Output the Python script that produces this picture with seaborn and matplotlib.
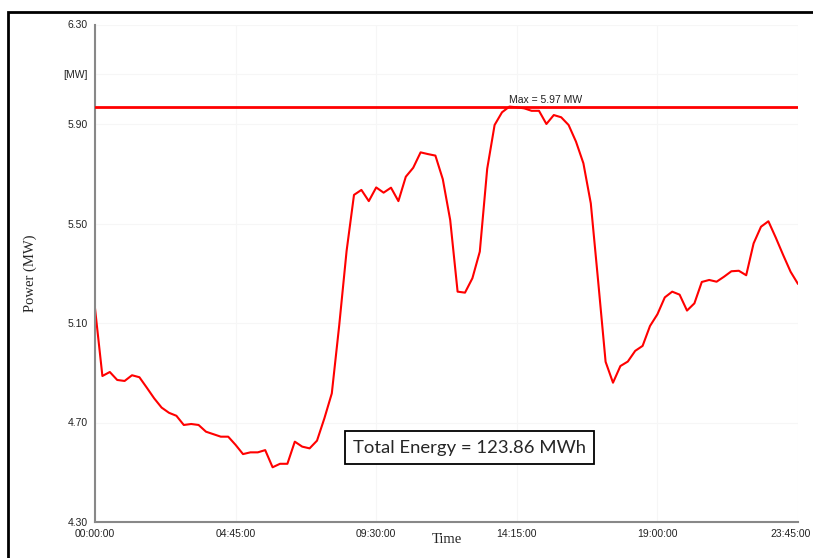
import matplotlib
matplotlib.use("Agg")
import matplotlib.pyplot as plt
import matplotlib.transforms as mtransforms
import seaborn as sns
import numpy as np
import pandas as pd
from matplotlib.patches import Rectangle

# ---- data ----
time_tick_labels = ["00:00:00", "04:45:00", "09:30:00", "14:15:00", "19:00:00", "23:45:00"]
time_tick_index = [0, 19, 38, 57, 76, 95]
power = [
    5.159, 4.887, 4.903, 4.871, 4.867, 4.890, 4.882, 4.840, 4.797, 4.760,
    4.739, 4.727, 4.690, 4.694, 4.690, 4.663, 4.653, 4.643, 4.643, 4.610,
    4.573, 4.580, 4.580, 4.589, 4.520, 4.534, 4.534, 4.623, 4.603, 4.596,
    4.627, 4.717, 4.817, 5.090, 5.390, 5.615, 5.635, 5.590, 5.645, 5.624,
    5.644, 5.590, 5.688, 5.724, 5.786, 5.779, 5.773, 5.678, 5.514, 5.226,
    5.222, 5.280, 5.387, 5.720, 5.896, 5.947, 5.970, 5.967, 5.963, 5.953,
    5.953, 5.900, 5.936, 5.927, 5.896, 5.829, 5.742, 5.581, 5.266, 4.944,
    4.860, 4.927, 4.945, 4.988, 5.008, 5.088, 5.135, 5.203, 5.226, 5.214,
    5.150, 5.179, 5.265, 5.273, 5.266, 5.286, 5.308, 5.310, 5.292, 5.420,
    5.487, 5.509, 5.443, 5.373, 5.306, 5.257,
]
y_ticks = [6.30, 6.10, 5.90, 5.50, 5.10, 4.70, 4.30]
y_tick_labels = ["6.30", "[MW]", "5.90", "5.50", "5.10", "4.70", "4.30"]
max_value = 5.97
max_label = "Max = 5.97 MW"
energy_label = "Total Energy = 123.86 MWh"

df = pd.DataFrame({"idx": np.arange(len(power)), "power": power})

sns.set_style("white")
plt.rcParams["font.family"] = ["Liberation Sans", "DejaVu Sans"]

fig = plt.figure(figsize=(8.13, 5.58), dpi=100)
ax = fig.add_axes([95 / 813, 1 - 522 / 558, (798 - 95) / 813, (522 - 24.5) / 558])

sns.lineplot(data=df, x="idx", y="power", ax=ax, color="#ff0000", linewidth=1.5)
ax.axhline(max_value, color="#ff0000", linewidth=2.0, zorder=3)
imax = int(np.argmax(power))
ax.text(imax, max_value + 0.005, max_label, ha="left", va="bottom",
        fontsize=7.5, color="#222222")

ax.set_xlim(0, 95)
ax.set_ylim(4.30, 6.30)
ax.set_xticks(time_tick_index)
ax.set_xticklabels(time_tick_labels)
ax.set_yticks(y_ticks)
ax.set_yticklabels(y_tick_labels)
ax.tick_params(axis="both", labelsize=7.5, labelcolor="#222222", length=2,
               color="#bbbbbb", pad=3)
ax.grid(True, color="#f6f6f6", linewidth=0.8)
ax.set_axisbelow(True)

# keep the last x tick label inside the figure
last = ax.get_xticklabels()[-1]
last.set_transform(last.get_transform() +
                   mtransforms.ScaledTranslation(-7 / 100, 0, fig.dpi_scale_trans))

for s in ["top", "right"]:
    ax.spines[s].set_visible(False)
for s in ["left", "bottom"]:
    ax.spines[s].set_color("#888888")
    ax.spines[s].set_linewidth(1.5)

ax.set_xlabel("Time", family=["Liberation Serif"], fontsize=10.5, labelpad=-4)
ax.set_ylabel("Power (MW)", family=["Liberation Serif"], fontsize=10.5, labelpad=19)

fig.text(469.5 / 813, 1 - 447.5 / 558, energy_label, ha="center", va="center",
         fontsize=13.3, family=["Lato", "DejaVu Sans"],
         bbox=dict(boxstyle="square,pad=0.45", facecolor="white",
                   edgecolor="black", linewidth=1.3))

# figure frame
fig.patches.append(Rectangle((8 / 813, -0.1), 1.2, 1 - 12 / 558 + 0.1,
                             transform=fig.transFigure, fill=False,
                             edgecolor="black", linewidth=2))

fig.savefig("out.png", dpi=100)
